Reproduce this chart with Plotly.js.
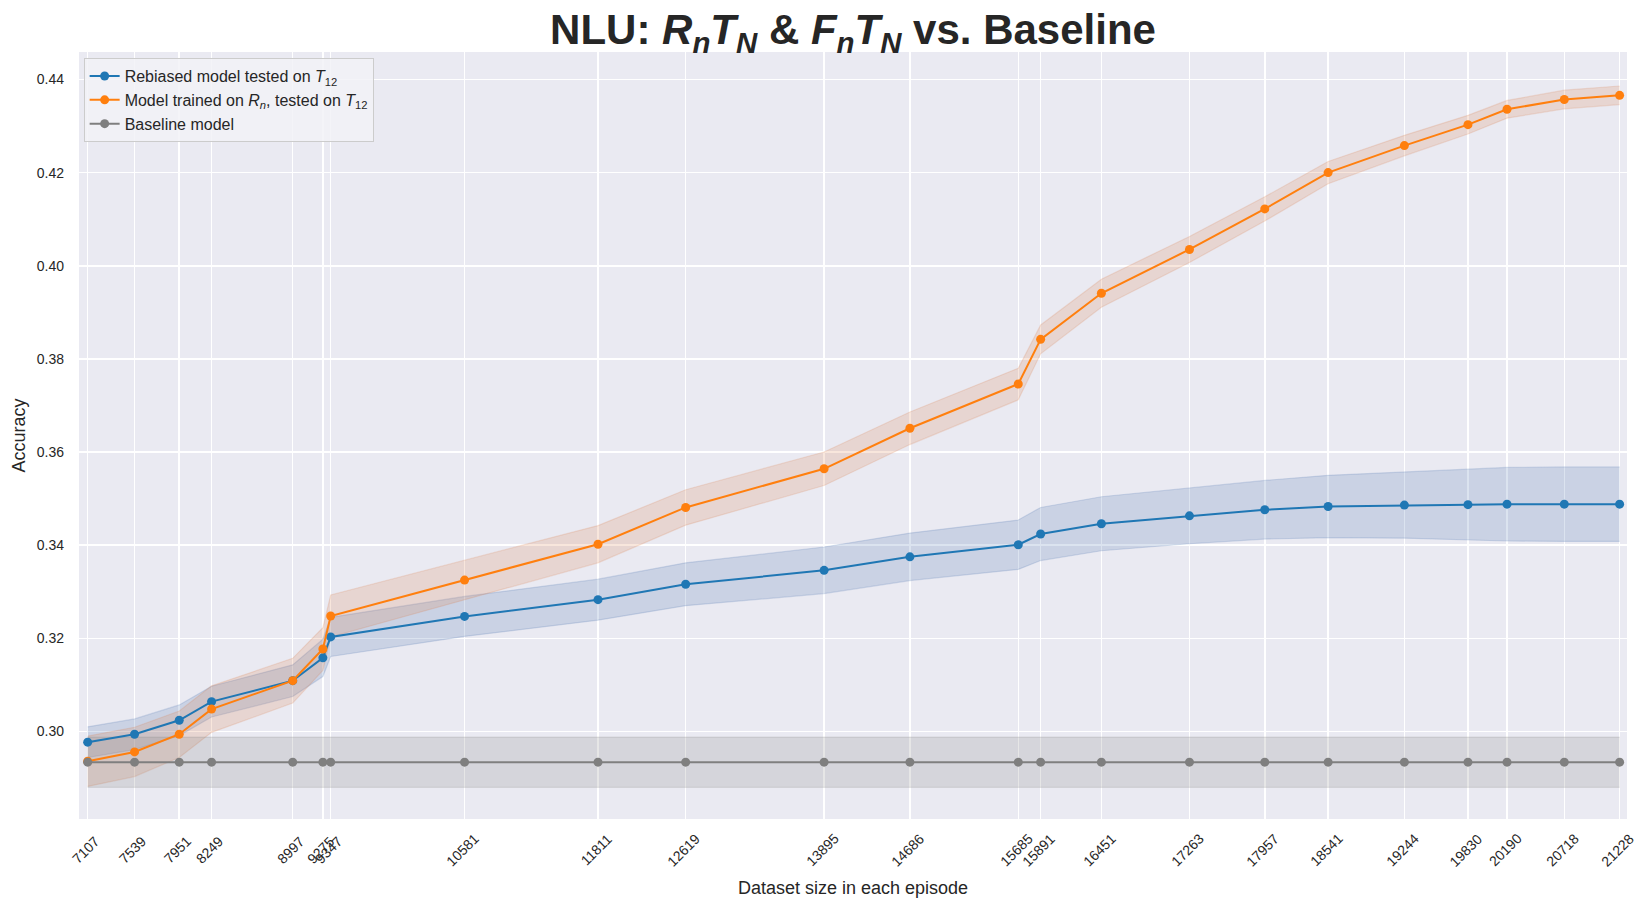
<!DOCTYPE html>
<html>
<head>
<meta charset="utf-8">
<script src="https://cdn.plot.ly/plotly-3.0.1.min.js"></script>
<style>
  html, body { margin: 0; padding: 0; background: #fff; }
  #plot { width: 1648px; height: 909px; }
</style>
</head>
<body>
<div id="plot"></div>
<script>
// dataset size per episode (also used as x tick labels)
const sizes = [7107, 7539, 7951, 8249, 8997, 9275, 9347, 10581, 11811, 12619, 13895, 14686,
               15685, 15891, 16451, 17263, 17957, 18541, 19244, 19830, 20190, 20718, 21228];

// rebiased model tested on T12
const rebiasedAcc = [0.2977, 0.2994, 0.3024, 0.3064, 0.3109, 0.3158, 0.3203, 0.3247, 0.3283, 0.3316, 0.3346, 0.3375,
                     0.3401, 0.3424, 0.3446, 0.3463, 0.3476, 0.3483, 0.3486, 0.3487, 0.3488, 0.3488, 0.3488];
const rebiasedErr = [0.0033, 0.0033, 0.0033, 0.0033, 0.0034, 0.0040, 0.0042, 0.0043, 0.0044, 0.0046, 0.0050, 0.0051,
                     0.0053, 0.0057, 0.0058, 0.0060, 0.0063, 0.0067, 0.0071, 0.0075, 0.0079, 0.0080, 0.0080];

// model trained on R_n, tested on T12
const retrainedAcc = [0.2936, 0.2956, 0.2994, 0.3048, 0.3109, 0.3177, 0.3248, 0.3325, 0.3402, 0.3481, 0.3564, 0.3651,
                      0.3746, 0.3842, 0.3941, 0.4035, 0.4122, 0.4200, 0.4258, 0.4303, 0.4336, 0.4357, 0.4366];
const retrainedErr = [0.0054, 0.0053, 0.0050, 0.0050, 0.0048, 0.0046, 0.0045, 0.0042, 0.0040, 0.0038, 0.0036, 0.0035,
                      0.0034, 0.0031, 0.0030, 0.0028, 0.0026, 0.0024, 0.0022, 0.0020, 0.0019, 0.0020, 0.0020];

// baseline model
const baselineAcc = [0.2934, 0.2934, 0.2934, 0.2934, 0.2934, 0.2934, 0.2934, 0.2934, 0.2934, 0.2934, 0.2934, 0.2934,
                     0.2934, 0.2934, 0.2934, 0.2934, 0.2934, 0.2934, 0.2934, 0.2934, 0.2934, 0.2934, 0.2934];
const baselineErr = [0.0054, 0.0054, 0.0054, 0.0054, 0.0054, 0.0054, 0.0054, 0.0054, 0.0054, 0.0054, 0.0054, 0.0054,
                     0.0054, 0.0054, 0.0054, 0.0054, 0.0054, 0.0054, 0.0054, 0.0054, 0.0054, 0.0054, 0.0054];

const yTicks = [0.30, 0.32, 0.34, 0.36, 0.38, 0.40, 0.42, 0.44];

const FONT = 'Liberation Sans, Arial, sans-serif';
const TXT = '#262626';

// shaded band (lower bound trace + upper bound trace filled to it)
function band(mean, err, fillColor) {
    const lo = mean.map((m, i) => m - err[i]);
    const hi = mean.map((m, i) => m + err[i]);
    return [
        { x: sizes, y: lo, mode: 'lines', type: 'scatter', line: { color: fillColor, width: 1.2 },
          showlegend: false, hoverinfo: 'skip' },
        { x: sizes, y: hi, mode: 'lines', type: 'scatter', line: { color: fillColor, width: 1.2 },
          fill: 'tonexty', fillcolor: fillColor, showlegend: false, hoverinfo: 'skip' }
    ];
}

function series(y, color, name) {
    return {
        x: sizes, y: y, mode: 'lines+markers', type: 'scatter', name: name,
        line: { color: color, width: 2 },
        marker: { color: color, size: 9 }
    };
}

let traces = [];
traces = traces.concat(band(rebiasedAcc, rebiasedErr, 'rgba(76,114,176,0.2)'));
traces = traces.concat(band(retrainedAcc, retrainedErr, 'rgba(221,132,82,0.2)'));
traces = traces.concat(band(baselineAcc, baselineErr, 'rgba(128,128,128,0.2)'));
traces.push(series(rebiasedAcc, '#1f77b4', 'Rebiased model tested on <i>T</i><sub>12</sub>'));
traces.push(series(retrainedAcc, '#ff7f0e', 'Model trained on <i>R</i><sub><i>n</i></sub>, tested on <i>T</i><sub>12</sub>'));
traces.push(series(baselineAcc, '#7f7f7f', 'Baseline model'));

// x tick labels, rotated around their centre like matplotlib
const tickLabels = sizes.map(s => ({
    x: s, y: 0, xref: 'x', yref: 'paper',
    text: String(s), showarrow: false,
    textangle: -45, xanchor: 'center', yanchor: 'middle', xshift: -2, yshift: -31,
    font: { family: FONT, size: 14, color: TXT }
}));

const layout = {
    width: 1648, height: 909,
    margin: { l: 79, r: 21, t: 52, b: 90 },
    paper_bgcolor: '#ffffff',
    plot_bgcolor: '#eaeaf2',
    title: {
        text: '<b>NLU: <i>R</i><sub><i>n</i></sub><i>T</i><sub><i>N</i></sub> &amp; <i>F</i><sub><i>n</i></sub><i>T</i><sub><i>N</i></sub> vs. Baseline</b>',
        font: { family: FONT, size: 42, color: TXT },
        x: 0.5, xref: 'paper', xanchor: 'center',
        y: 0.968, yref: 'container', yanchor: 'middle'
    },
    xaxis: {
        range: [7027, 21296],
        tickvals: sizes,
        showticklabels: false,
        showgrid: true, gridcolor: '#ffffff', gridwidth: 1.5,
        zeroline: false, showline: false, ticks: '',
        title: { text: 'Dataset size in each episode', font: { family: FONT, size: 18, color: TXT }, standoff: 62 }
    },
    yaxis: {
        range: [0.2812, 0.4459],
        tickvals: yTicks,
        tickformat: '.2f',
        tickfont: { family: FONT, size: 14, color: TXT },
        ticklabelstandoff: 14,
        showgrid: true, gridcolor: '#ffffff', gridwidth: 1.5,
        zeroline: false, showline: false, ticks: '',
        title: { text: 'Accuracy', font: { family: FONT, size: 18, color: TXT }, standoff: 6 }
    },
    legend: {
        x: 0.003, y: 0.992, xanchor: 'left', yanchor: 'top',
        traceorder: 'normal',
        bgcolor: 'rgba(242,242,247,0.85)', bordercolor: '#cccccc', borderwidth: 1,
        font: { family: FONT, size: 16, color: TXT },
        tracegroupgap: 0
    },
    annotations: tickLabels,
    showlegend: true
};

Plotly.newPlot('plot', traces, layout, { displayModeBar: false, staticPlot: true });
</script>
</body>
</html>
